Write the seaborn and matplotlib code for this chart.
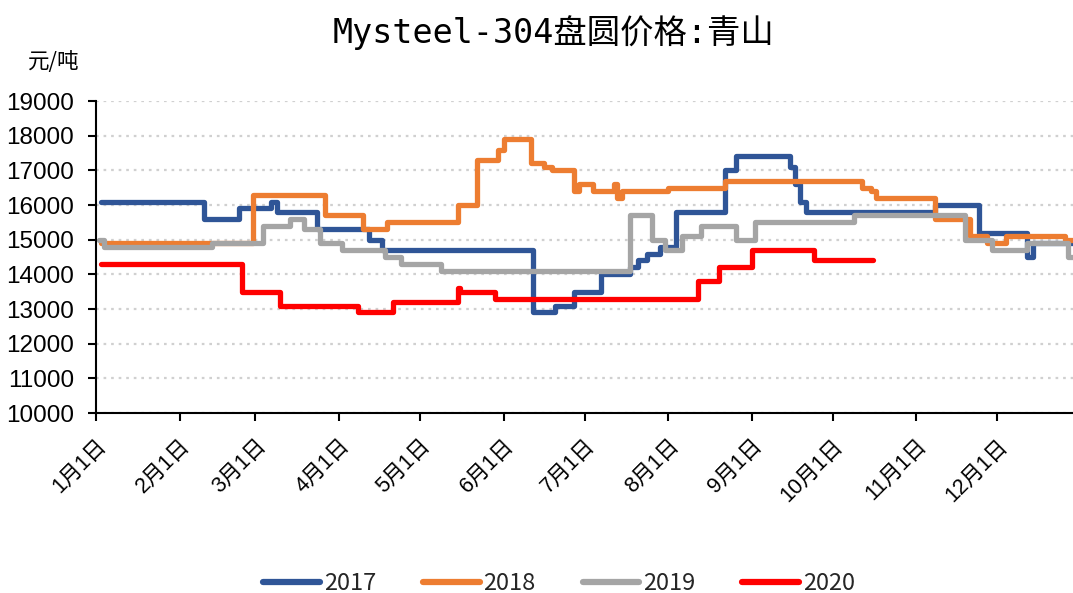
import matplotlib
matplotlib.use("Agg")
import matplotlib.pyplot as plt
import seaborn as sns
import pandas as pd
from matplotlib.lines import Line2D

# ---- data (day of year index, price in 元/吨) ----
years = ["2017", "2018", "2019", "2020"]

days_2017 = [2, 40, 53, 65, 67, 82, 101, 106, 162, 170, 177, 187, 198, 201, 204, 209,
             215, 233, 237, 257, 259, 261, 263, 311, 327, 345, 347, 362]
vals_2017 = [16100, 15600, 15900, 16100, 15800, 15300, 15000, 14700, 12900, 13100, 13500,
             14000, 14200, 14400, 14600, 14800, 15800, 17000, 17400, 17100, 16600, 16100,
             15800, 16000, 15200, 14500, 14900, 14900]

days_2018 = [2, 58, 85, 99, 108, 134, 141, 149, 151, 161, 166, 169, 177, 179, 184, 192,
             193, 195, 212, 233, 284, 287, 289, 311, 324, 330, 337, 359, 362]
vals_2018 = [14900, 16300, 15700, 15300, 15500, 16000, 17300, 17600, 17900, 17200, 17100,
             17000, 16400, 16600, 16400, 16600, 16200, 16400, 16500, 16700, 16500, 16400,
             16200, 15600, 15100, 14900, 15100, 15000, 15000]

days_2019 = [1, 3, 43, 62, 72, 77, 83, 91, 107, 113, 128, 198, 206, 211, 217, 224, 237,
             244, 281, 322, 332, 345, 360, 362]
vals_2019 = [15000, 14800, 14900, 15400, 15600, 15300, 14900, 14700, 14500, 14300, 14100,
             15700, 15000, 14700, 15100, 15400, 15000, 15500, 15700, 15000, 14700, 14900,
             14500, 14500]

days_2020 = [2, 54, 68, 97, 110, 134, 135, 148, 223, 231, 243, 266, 288]
vals_2020 = [14300, 13500, 13100, 12900, 13200, 13600, 13500, 13300, 13800, 14200, 14700,
             14400, 14400]

month_days = [0, 31, 59, 90, 120, 151, 181, 212, 243, 273, 304, 334]
month_labels = ["1月1日", "2月1日", "3月1日", "4月1日", "5月1日", "6月1日",
                "7月1日", "8月1日", "9月1日", "10月1日", "11月1日", "12月1日"]

colors = {"2017": "#2F5597", "2018": "#ED7D31", "2019": "#A5A5A5", "2020": "#FF0000"}

frames = []
for y, d, v in [("2017", days_2017, vals_2017), ("2018", days_2018, vals_2018),
                ("2019", days_2019, vals_2019), ("2020", days_2020, vals_2020)]:
    frames.append(pd.DataFrame({"day": d, "price": v, "year": y}))
df = pd.concat(frames, ignore_index=True)

sns.set_theme(style="white")
plt.rcParams["font.family"] = ["Noto Sans CJK SC", "DejaVu Sans"]

fig = plt.figure(figsize=(10.73, 5.93), dpi=100)
ax = fig.add_axes([96 / 1073, 1 - 413 / 593, 1 - 96 / 1073, (413 - 101) / 593])

for y in years:
    sub = df[df["year"] == y]
    sns.lineplot(data=sub, x="day", y="price", ax=ax, color=colors[y], linewidth=3.8,
                 drawstyle="steps-post", estimator=None, sort=False, legend=False,
                 solid_capstyle="round", solid_joinstyle="round")

ax.set_xlim(0, 362)
ax.set_ylim(10000, 19000)
ax.set_yticks(range(10000, 19001, 1000))
ax.set_xticks(month_days)
ax.set_xticklabels(month_labels, rotation=45, ha="right", va="top", rotation_mode="anchor",
                   fontsize=15.5, family=["Liberation Sans", "Noto Sans CJK SC"])
for lab in ax.get_yticklabels():
    lab.set_fontsize(17.5)
    lab.set_family(["Liberation Sans", "Noto Sans CJK SC"])
ax.set_xlabel("")
ax.set_ylabel("")

ax.yaxis.grid(True, color="#D0D0D0", linestyle=(0, (1.2, 2.2)), linewidth=1.6)
ax.xaxis.grid(False)
for s in ["top", "right"]:
    ax.spines[s].set_visible(False)
for s in ["left", "bottom"]:
    ax.spines[s].set_color("black")
    ax.spines[s].set_linewidth(1.5)
ax.tick_params(axis="both", direction="out", length=6, width=1.5, color="black",
               left=True, bottom=True, labelcolor="black")
ax.tick_params(axis="x", pad=10)
ax.tick_params(axis="y", pad=10)

fig.text(0.516, 0.945, "Mysteel-304盘圆价格:青山", ha="center", va="center",
         fontsize=24, family=["DejaVu Sans Mono", "Noto Sans CJK SC"], color="black")
fig.text(0.050, 0.895, "元/吨", ha="center", va="center", fontsize=15.5, color="black")

handles = [Line2D([0], [0], color=colors[y], linewidth=4.5, solid_capstyle="round") for y in years]
fig.legend(handles, years, loc="center", bbox_to_anchor=(0.521, 0.016), ncol=4, frameon=False,
           fontsize=17, handlelength=2.4, handletextpad=0.15, columnspacing=2.0)

fig.savefig("out.png", dpi=100)
